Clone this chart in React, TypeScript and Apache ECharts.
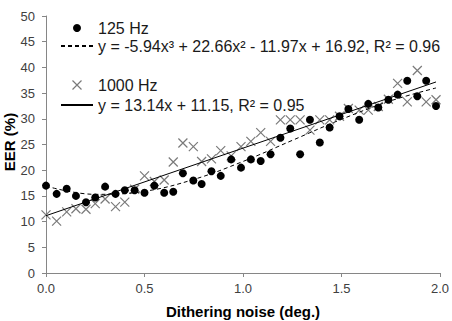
import React, { useEffect, useRef } from "react";
import * as echarts from "echarts";

const xValues = [0, 0.054, 0.105, 0.152, 0.203, 0.25, 0.3, 0.353, 0.4, 0.45, 0.5, 0.55, 0.6, 0.646, 0.695, 0.748, 0.79, 0.84, 0.887, 0.94, 0.99, 1.04, 1.09, 1.14, 1.19, 1.24, 1.29, 1.34, 1.39, 1.44, 1.49, 1.535, 1.59, 1.636, 1.687, 1.738, 1.785, 1.834, 1.885, 1.93, 1.98];
const eer125 = [17.0, 15.4, 16.4, 15.0, 13.75, 14.7, 16.8, 15.4, 16.1, 16.1, 15.6, 17.0, 15.6, 15.8, 19.4, 18.0, 17.3, 19.8, 18.9, 22.1, 20.5, 22.1, 21.8, 23.1, 26.3, 28.1, 23.1, 29.8, 25.4, 28.3, 30.5, 31.9, 29.8, 32.9, 32.2, 33.7, 34.7, 37.4, 34.4, 37.4, 32.5];
const eer1000 = [11.3, 10.1, 11.9, 12.5, 12.4, 13.5, 14.4, 12.9, 13.8, 16.3, 18.9, 17.8, 18.1, 21.6, 25.3, 24.6, 21.7, 22.2, 23.8, 22.8, 24.6, 25.6, 27.3, 25.6, 29.8, 29.8, 29.8, 27.8, 29.8, 29.8, 30.5, 32.0, 31.7, 31.7, 32.4, 33.8, 36.9, 33.3, 39.4, 33.3, 33.7];

// trend curves
const cubicX = [0, 0.25, 0.5, 0.75, 1.0, 1.25, 1.5, 1.75, 1.98];
const cubicY = [16.9, 15.3, 15.9, 18.2, 21.7, 25.8, 29.9, 33.5, 36.0];
const linearX = [0, 1.98];
const linearY = [11.15, 37.17];

const name125 = "125 Hz";
const name1000 = "1000 Hz";
const nameCubic = "y = -5.94x³ + 22.66x² - 11.97x + 16.92, R² = 0.96";
const nameLinear = "y = 13.14x + 11.15, R² = 0.95";

const xTicks = { min: 0, max: 2, interval: 0.5 };
const yTicks = { min: 0, max: 50, interval: 5 };

const FONT = "'Liberation Sans', Arial, sans-serif";
const CROSS = "path://M0,0L10,10M10,0L0,10";
const AXIS_COLOR = "#868686";
const LABEL_COLOR = "#404040";
const CROSS_COLOR = "#7a7a7a";

export default function App() {
  const ref = useRef<HTMLDivElement>(null);
  useEffect(() => {
    if (!ref.current) return;
    const chart = echarts.init(ref.current, null, { renderer: "svg" });
    const zip = (xs: number[], ys: number[]) => xs.map((x, i) => [x, ys[i]]);
    chart.setOption({
      animation: false,
      grid: { left: 46, right: 12, top: 16, bottom: 48 },
      xAxis: {
        type: "value",
        min: xTicks.min,
        max: xTicks.max,
        interval: xTicks.interval,
        splitLine: { show: false },
        axisLine: { lineStyle: { color: AXIS_COLOR, width: 1 } },
        axisTick: { show: true, length: 4, lineStyle: { color: AXIS_COLOR } },
        axisLabel: {
          margin: 9,
          fontSize: 13,
          fontFamily: FONT,
          color: LABEL_COLOR,
          formatter: (v: number) => v.toFixed(1),
        },
      },
      yAxis: {
        type: "value",
        min: yTicks.min,
        max: yTicks.max,
        interval: yTicks.interval,
        splitLine: { show: false },
        axisLine: { show: true, lineStyle: { color: AXIS_COLOR, width: 1 } },
        axisTick: { show: true, length: 4, lineStyle: { color: AXIS_COLOR } },
        axisLabel: { margin: 11, fontSize: 13, fontFamily: FONT, color: LABEL_COLOR },
      },
      legend: [
        {
          left: 60,
          top: 20,
          orient: "vertical",
          padding: 0,
          itemGap: 2,
          itemWidth: 32,
          itemHeight: 8,
          selectedMode: false,
          textStyle: { fontSize: 16, fontFamily: FONT, color: "#1a1a1a" },
          data: [
            { name: name125, icon: "circle", itemStyle: { color: "#000", opacity: 1 } },
            { name: nameCubic, itemStyle: { opacity: 0 } },
          ],
        },
        {
          left: 60,
          top: 77,
          orient: "vertical",
          padding: 0,
          itemGap: 4,
          itemWidth: 32,
          itemHeight: 9,
          selectedMode: false,
          textStyle: { fontSize: 16, fontFamily: FONT, color: "#1a1a1a" },
          data: [
            { name: name1000, icon: CROSS, itemStyle: { color: "none", borderColor: CROSS_COLOR, borderWidth: 1.2, opacity: 1 } },
            { name: nameLinear, itemStyle: { opacity: 0 } },
          ],
        },
      ],
      series: [
        {
          name: name1000,
          type: "scatter",
          symbol: CROSS,
          symbolSize: 9,
          itemStyle: { color: "none", borderColor: CROSS_COLOR, borderWidth: 1.2, opacity: 1 },
          data: zip(xValues, eer1000),
          z: 2,
        },
        {
          name: name125,
          type: "scatter",
          symbol: "circle",
          symbolSize: 8,
          itemStyle: { color: "#000", opacity: 1 },
          data: zip(xValues, eer125),
          z: 3,
        },
        {
          name: nameCubic,
          type: "line",
          symbol: "none",
          smooth: 0.4,
          lineStyle: { color: "#000", width: 1, type: [4, 3] },
          itemStyle: { color: "#000" },
          data: zip(cubicX, cubicY),
          z: 4,
        },
        {
          name: nameLinear,
          type: "line",
          symbol: "none",
          lineStyle: { color: "#000", width: 1, type: "solid" },
          itemStyle: { color: "#000" },
          data: zip(linearX, linearY),
          z: 4,
        },
      ],
      graphic: [
        {
          type: "text",
          x: 243,
          y: 311,
          style: {
            text: "Dithering noise (deg.)",
            fontSize: 15,
            fontWeight: "bold",
            fontFamily: FONT,
            fill: "#000",
            align: "center",
            verticalAlign: "middle",
          },
        },
        {
          type: "text",
          x: 9,
          y: 142,
          rotation: Math.PI / 2,
          style: {
            text: "EER (%)",
            fontSize: 15,
            fontWeight: "bold",
            fontFamily: FONT,
            fill: "#000",
            align: "center",
            verticalAlign: "middle",
          },
        },
      ],
    });
    return () => chart.dispose();
  }, []);
  return (
    <div
      ref={ref}
      style={{ position: "absolute", left: 0, top: 0, width: 452, height: 321 }}
    />
  );
}
